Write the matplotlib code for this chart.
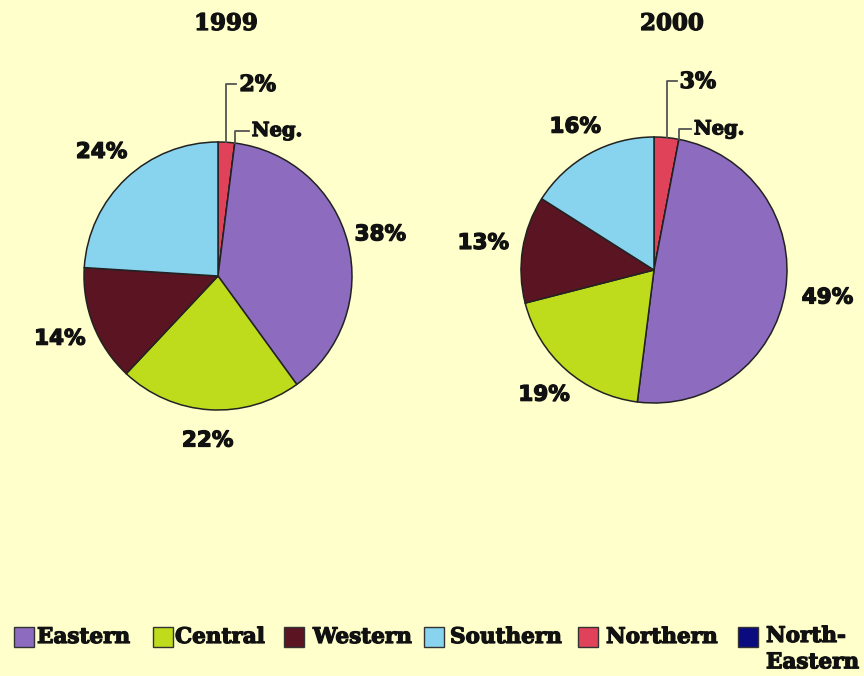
import numpy as np
import matplotlib
matplotlib.use("Agg")
import matplotlib.pyplot as plt
from matplotlib.patches import Rectangle
import matplotlib.patheffects as pe

# ---------------- data ----------------
years = ["1999", "2000"]
regions = ["Northern", "North-Eastern", "Eastern", "Central", "Western", "Southern"]
share_1999 = [2, 0, 38, 22, 14, 24]
share_2000 = [3, 0, 49, 19, 13, 16]
neg_label = "Neg."
legend_regions = ["Eastern", "Central", "Western", "Southern", "Northern", "North-Eastern"]
legend_labels = ["Eastern", "Central", "Western", "Southern", "Northern", "North-\nEastern"]

# ---------------- style ----------------
colors = {
    "Eastern": "#8D6BBF",
    "Central": "#BEDC1C",
    "Western": "#5A1422",
    "Southern": "#88D4EE",
    "Northern": "#E0425A",
    "North-Eastern": "#0B0B80",
}
bg = "#FFFFCC"
W, H = 864, 676
serif = ["DejaVu Serif"]
sans = ["DejaVu Sans"]
heavy = [pe.withStroke(linewidth=0.9, foreground="#111111")]

fig = plt.figure(figsize=(W / 100, H / 100), dpi=100, facecolor=bg)
ax = fig.add_axes([0, 0, 1, 1])
ax.set_facecolor(bg)

def Y(y):
    return H - y

# pie geometry in pixel coordinates (y measured from top)
pies = [
    dict(year=years[0], data=share_1999, cx=218, cy=276, r=134, title_x=226,
         lab_dist=[1.25, 1.23, 1.27, 1.27], top_off=58, neg_up=12, lead=10, neg_lead=14),
    dict(year=years[1], data=share_2000, cx=654, cy=270, r=133, title_x=672,
         lab_dist=[1.32, 1.25, 1.30, 1.23], top_off=56, neg_up=10, lead=10, neg_lead=12),
]

for p in pies:
    cx, cy, r = p["cx"], Y(p["cy"]), p["r"]
    wedges, _ = ax.pie(
        p["data"],
        colors=[colors[k] for k in regions],
        startangle=90,
        counterclock=False,
        center=(cx, cy),
        radius=r,
        wedgeprops=dict(edgecolor="#222222", linewidth=1.1),
        frame=True,
    )
    # outer percentage labels
    j = 0
    for w, reg, v in zip(wedges, regions, p["data"]):
        if reg in ("Northern", "North-Eastern"):
            continue
        mid = np.deg2rad((w.theta1 + w.theta2) / 2)
        d = p["lab_dist"][j] * r
        j += 1
        ax.text(cx + d * np.cos(mid), cy + d * np.sin(mid), f"{v}%",
                ha="center", va="center", fontsize=15.5, fontweight="bold",
                family=sans, color="#111111", path_effects=heavy)
    # Northern leader label
    wn = wedges[regions.index("Northern")]
    mid = np.deg2rad((wn.theta1 + wn.theta2) / 2)
    x0, y0 = cx + r * np.cos(mid), cy + r * np.sin(mid)
    ytop = cy + r + p["top_off"]
    ax.plot([x0, x0, x0 + p["lead"]], [y0, ytop, ytop], color="#555555", lw=1.3)
    ax.text(x0 + p["lead"] + 3, ytop - 1, f"{p['data'][0]}%", ha="left", va="center",
            fontsize=16, fontweight="bold", family=serif, color="#111111",
            path_effects=heavy)
    # Negligible (North-Eastern) leader label
    wne = wedges[regions.index("North-Eastern")]
    a = np.deg2rad(wne.theta1)
    x1, y1 = cx + r * np.cos(a), cy + r * np.sin(a)
    y2 = y1 + p["neg_up"]
    ax.plot([x1, x1, x1 + p["neg_lead"]], [y1, y2, y2], color="#555555", lw=1.3)
    ax.text(x1 + p["neg_lead"] + 3, y2, neg_label, ha="left", va="center",
            fontsize=14, fontweight="bold", family=serif, color="#111111",
            path_effects=heavy)
    # title
    ax.text(p["title_x"], Y(24), p["year"], ha="center", va="center",
            fontsize=16.5, fontweight="bold", family=serif, color="#111111",
            path_effects=heavy)

# ---------------- legend ----------------
sq_x = [14, 153, 284, 424, 578, 738]
txt_x = [37, 175, 313, 450, 606, 766]
sq = 20
leg_y = 637
for xs, xt, reg, lab in zip(sq_x, txt_x, legend_regions, legend_labels):
    ax.add_patch(Rectangle((xs, Y(leg_y) - sq / 2), sq, sq, facecolor=colors[reg],
                           edgecolor="#333333", lw=1.0))
    if "\n" in lab:
        ax.text(xt, Y(leg_y) + 12, lab, ha="left", va="top",
                fontsize=15.5, fontweight="bold", family=serif, color="#111111",
                linespacing=1.25, path_effects=heavy)
    else:
        ax.text(xt, Y(leg_y), lab, ha="left", va="center",
                fontsize=15.5, fontweight="bold", family=serif, color="#111111",
                path_effects=heavy)

ax.set_xlim(0, W)
ax.set_ylim(0, H)
ax.set_aspect("auto")
ax.axis("off")

fig.savefig("out.png", dpi=100, facecolor=bg)
